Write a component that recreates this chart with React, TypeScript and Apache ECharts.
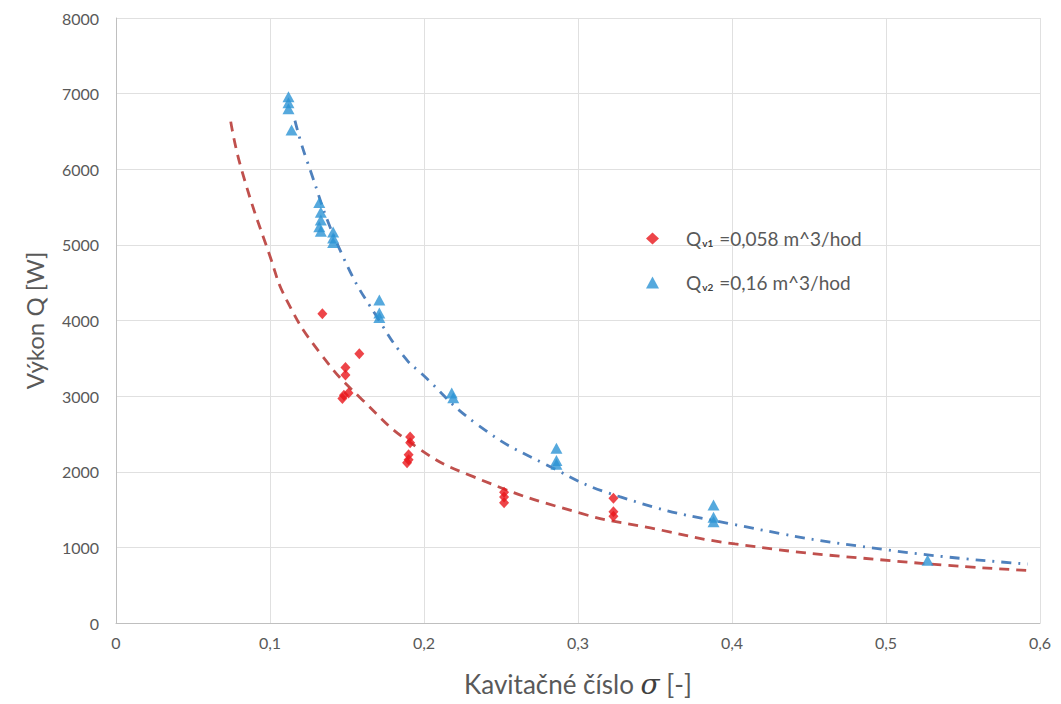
import React, { useEffect, useRef } from "react";
import * as echarts from "echarts";

const redX = [0.134, 0.158, 0.149, 0.149, 0.151, 0.148, 0.147, 0.191, 0.191, 0.19, 0.19, 0.189, 0.252, 0.252, 0.252, 0.323, 0.323, 0.323];
const redY = [4090, 3560, 3380, 3280, 3040, 3010, 2970, 2460, 2385, 2225, 2160, 2120, 1730, 1665, 1590, 1650, 1470, 1410];

const blueX = [0.112, 0.112, 0.112, 0.114, 0.132, 0.133, 0.133, 0.132, 0.133, 0.141, 0.141, 0.141, 0.171, 0.171, 0.171, 0.218, 0.219, 0.286, 0.286, 0.286, 0.388, 0.388, 0.388, 0.527];
const blueY = [6960, 6880, 6800, 6520, 5560, 5430, 5330, 5240, 5180, 5170, 5090, 5030, 4270, 4100, 4040, 3040, 2980, 2310, 2150, 2100, 1560, 1400, 1340, 830];

const redTrendX = [0.0745, 0.0816, 0.1, 0.1108, 0.1325, 0.16, 0.195, 0.232, 0.301, 0.347, 0.402, 0.503, 0.5935];
const redTrendY = [6630, 5990, 4850, 4270, 3570, 2950, 2330, 1935, 1455, 1257, 1045, 824, 692];

const blueTrendX = [0.1162, 0.1238, 0.1474, 0.1734, 0.1888, 0.197, 0.235, 0.2797, 0.327, 0.4007, 0.501, 0.592];
const blueTrendY = [6644, 6124, 4845, 3919, 3479, 3324, 2619, 2090, 1671, 1305, 966, 780];

const xTicks = ["0", "0,1", "0,2", "0,3", "0,4", "0,5", "0,6"];

const FONT = "Lato, 'Open Sans', sans-serif";

function zip(xs: number[], ys: number[]) {
  return xs.map((x, i) => [x, ys[i]]);
}

export default function App() {
  const ref = useRef<HTMLDivElement>(null);
  useEffect(() => {
    if (!ref.current) return;
    const chart = echarts.init(ref.current, undefined, { renderer: "svg" });
    chart.setOption({
      animation: false,
      backgroundColor: "#ffffff",
      textStyle: { fontFamily: FONT },
      grid: { left: 116, right: 21, top: 18, bottom: 81 },
      legend: {
        orient: "vertical",
        left: 641,
        top: 224,
        itemGap: 25,
        itemWidth: 13,
        itemHeight: 12,
        data: [
          { name: "v1", icon: "diamond", itemStyle: { color: "#e8161c" } },
          { name: "v2", icon: "triangle" },
        ],
        formatter: (name: string) =>
          name === "v1"
            ? "{g|}{a|Q}{b|v1}{a| =0,058 m^3/hod}"
            : "{g|}{a|Q}{b|v2}{a| =0,16 m^3/hod}",
        textStyle: {
          rich: {
            g: { width: 22 },
            a: { fontSize: 19, color: "#595959", fontFamily: FONT },
            b: { fontSize: 10, fontWeight: "bold", color: "#404040", fontFamily: FONT, verticalAlign: "bottom", padding: [7, 1, 0, 1] },
          },
        },
      },
      xAxis: {
        type: "value",
        min: 0,
        max: 0.6,
        interval: 0.1,
        name: "{t|Kavitačné číslo }{s|σ}{t| [-]}",
        nameLocation: "middle",
        nameGap: 47,
        nameTextStyle: {
          rich: {
            t: { fontSize: 26, color: "#595959", fontFamily: FONT },
            s: { fontSize: 28, color: "#404040", fontFamily: "'DejaVu Serif', 'Liberation Serif', serif", fontStyle: "italic" },
          },
        },
        axisLine: { show: true, lineStyle: { color: "#bfbfbf" } },
        axisTick: { show: false },
        splitLine: { show: true, lineStyle: { color: "#e0e0e0" } },
        axisLabel: {
          color: "#595959",
          fontSize: 16,
          margin: 11,
          formatter: (v: number) => xTicks[Math.round(v * 10)] ?? "",
        },
      },
      yAxis: {
        type: "value",
        min: 0,
        max: 8000,
        interval: 1000,
        name: "Výkon Q [W]",
        nameLocation: "middle",
        nameGap: 70,
        nameTextStyle: { fontSize: 24, color: "#595959", fontFamily: FONT },
        axisLine: { show: true, lineStyle: { color: "#bfbfbf" } },
        axisTick: { show: false },
        splitLine: { show: true, lineStyle: { color: "#e0e0e0" } },
        axisLabel: { color: "#595959", fontSize: 16, margin: 17, formatter: (v: number) => String(v) },
      },
      series: [
        {
          name: "redTrend",
          type: "line",
          smooth: true,
          showSymbol: false,
          data: zip(redTrendX, redTrendY),
          lineStyle: { color: "#c0504d", width: 2.8, type: [10, 7] },
          z: 1,
        },
        {
          name: "blueTrend",
          type: "line",
          smooth: true,
          showSymbol: false,
          data: zip(blueTrendX, blueTrendY),
          lineStyle: { color: "#4f81bd", width: 2.8, type: [10, 7, 2, 7] },
          z: 1,
        },
        {
          name: "v1",
          type: "scatter",
          symbol: "diamond",
          symbolSize: [10, 11],
          itemStyle: { color: "#e8161c" },
          data: zip(redX, redY),
          z: 3,
        },
        {
          name: "v2",
          type: "scatter",
          symbol: "triangle",
          symbolSize: [12, 11],
          itemStyle: { color: "#2c94d4" },
          data: zip(blueX, blueY),
          z: 3,
        },
      ],
    });
    return () => chart.dispose();
  }, []);
  return (
    <div
      ref={ref}
      style={{ position: "fixed", left: 0, top: 0, width: 1061, height: 704 }}
    />
  );
}
